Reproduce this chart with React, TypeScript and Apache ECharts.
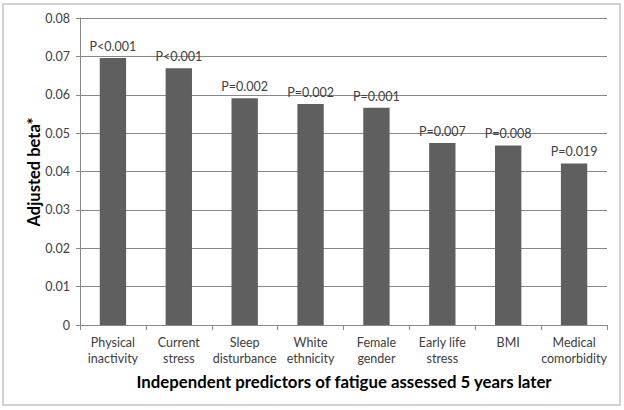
import React, { useEffect, useRef } from "react";
import * as echarts from "echarts";

const categories = [
  "Physical\ninactivity",
  "Current\nstress",
  "Sleep\ndisturbance",
  "White\nethnicity",
  "Female\ngender",
  "Early life\nstress",
  "BMI",
  "Medical\ncomorbidity",
];
const values = [0.0696, 0.0669, 0.0591, 0.0576, 0.0566, 0.0474, 0.0468, 0.0421];
const pLabels = ["P<0.001", "P<0.001", "P=0.002", "P=0.002", "P=0.001", "P=0.007", "P=0.008", "P=0.019"];
const yTitle = "Adjusted beta*";
const xTitle = "Independent predictors of fatigue assessed 5 years later";

const FONT = "Lato, 'Open Sans', sans-serif";

export default function App() {
  const ref = useRef<HTMLDivElement>(null);
  useEffect(() => {
    if (!ref.current) return;
    const chart = echarts.init(ref.current, null, { renderer: "svg" });
    chart.setOption({
      animation: false,
      backgroundColor: "#ffffff",
      textStyle: { fontFamily: FONT },
      graphic: [
        {
          type: "rect",
          shape: { x: 3, y: 4, width: 617, height: 401 },
          style: { fill: "none", stroke: "#d2d2d2", lineWidth: 2 },
          silent: true,
        },
        {
          type: "text",
          x: 344,
          y: 381,
          style: {
            text: xTitle,
            font: `bold 16.8px ${FONT}`,
            fill: "#000000",
            textAlign: "center",
            textVerticalAlign: "middle",
          },
        },
        {
          type: "text",
          x: 34,
          y: 172,
          rotation: Math.PI / 2,
          style: {
            text: yTitle,
            font: `bold 16.5px ${FONT}`,
            fill: "#000000",
            textAlign: "center",
            textVerticalAlign: "middle",
          },
        },
      ],
      grid: { left: 80, right: 17, top: 18, bottom: 85, containLabel: false },
      xAxis: {
        type: "category",
        data: categories,
        axisLine: { lineStyle: { color: "#888888", width: 1 } },
        axisTick: { show: true, length: 5, lineStyle: { color: "#888888" } },
        axisLabel: {
          color: "#404040",
          fontSize: 12.5,
          fontFamily: FONT,
          lineHeight: 16,
          margin: 9,
          interval: 0,
        },
      },
      yAxis: {
        type: "value",
        min: 0,
        max: 0.08,
        interval: 0.01,
        axisLine: { show: true, lineStyle: { color: "#888888", width: 1 } },
        axisTick: { show: true, length: 4, lineStyle: { color: "#888888" } },
        splitLine: { show: true, lineStyle: { color: "#888888", width: 1 } },
        axisLabel: {
          color: "#404040",
          fontSize: 12.5,
          fontFamily: FONT,
          margin: 10,
          formatter: (v: number) => (v === 0 ? "0" : v.toFixed(2)),
        },
      },
      series: [
        {
          type: "bar",
          data: values,
          barWidth: "40%",
          itemStyle: { color: "#5f5f5f" },
          label: {
            show: true,
            position: "top",
            distance: 5,
            color: "#404040",
            fontSize: 12.5,
            fontFamily: FONT,
            formatter: (p: any) => pLabels[p.dataIndex],
          },
        },
      ],
    });
    return () => chart.dispose();
  }, []);
  return (
    <div
      ref={ref}
      style={{ position: "fixed", left: 0, top: 0, width: 624, height: 410 }}
    />
  );
}
